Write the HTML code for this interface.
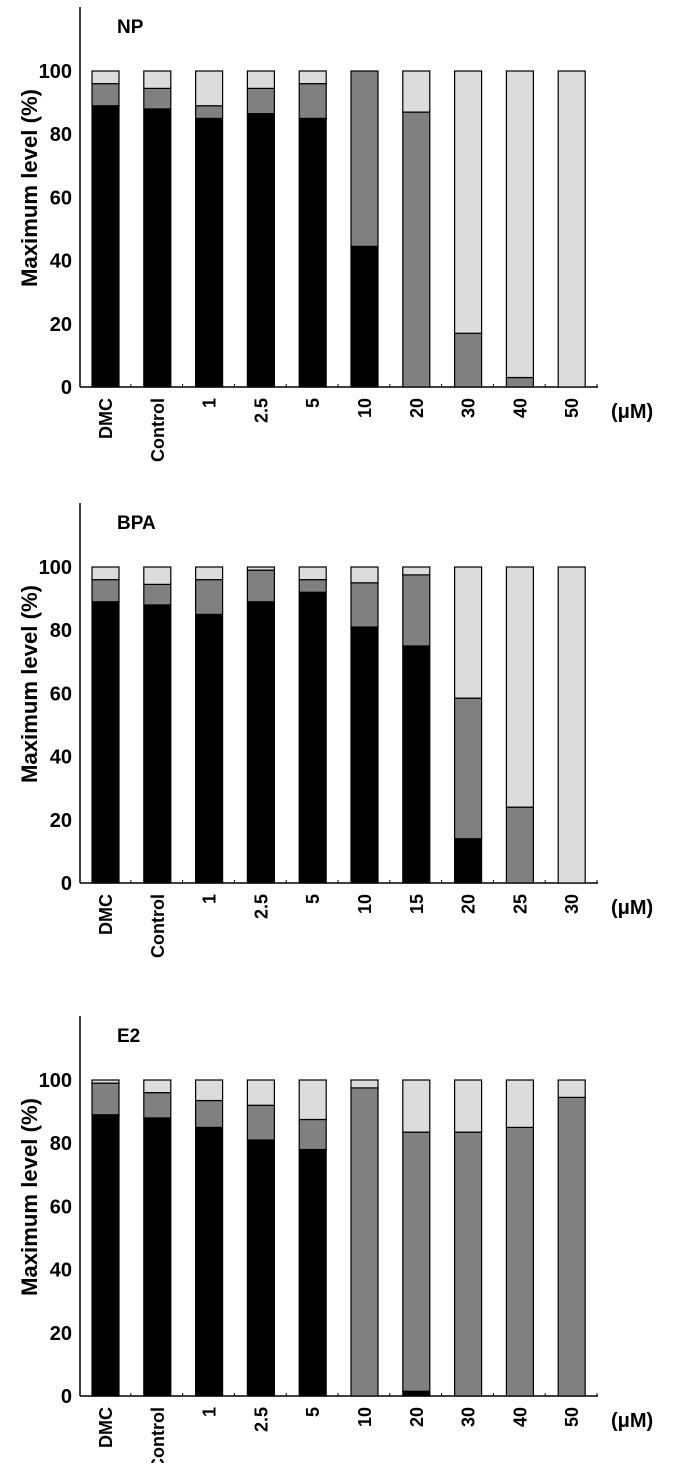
<!DOCTYPE html>
<html><head><meta charset="utf-8"><style>
html,body{margin:0;padding:0;background:#fff}
svg{display:block;font-family:"Liberation Sans",Arial,sans-serif;font-weight:bold}
</style></head><body>
<svg id="chart" width="681" height="1463" viewBox="0 0 681 1463"></svg>
<script>
const npCats=["DMC","Control","1","2.5","5","10","20","30","40","50"];
const npBlack=[89,88,85,86.5,85,44.5,0,0,0,0];
const npGray=[7,6.5,4,8,11,55.5,87,17,3,0];
const bpaCats=["DMC","Control","1","2.5","5","10","15","20","25","30"];
const bpaBlack=[89,88,85,89,92,81,75,14,0,0];
const bpaGray=[7,6.5,11,10,4,14,22.5,44.5,24,0];
const e2Cats=["DMC","Control","1","2.5","5","10","20","30","40","50"];
const e2Black=[89,88,85,81,78,0,1.5,0,0,0];
const e2Gray=[10,8,8.5,11,9.5,97.5,82,83.5,85,94.5];
const yTicks=[0,20,40,60,80,100];
const titles=["NP","BPA","E2"];

const NS="http://www.w3.org/2000/svg";
const svg=document.getElementById('chart');
function mk(tag,attrs,parent){const e=document.createElementNS(NS,tag);for(const k in attrs)e.setAttribute(k,attrs[k]);(parent||svg).appendChild(e);return e;}

function panel(idx,cats,black,gray,y0){
  const g=mk('g',{});
  
  
  const axX=80, top=y0-380, x0=80, step=51.8;
  const yS=v=>y0-v*3.16;
  const xS=i=>x0+12+i*step;
  const bw=27;
  const ya=mk('line',{x1:axX,y1:top,x2:axX,y2:y0,stroke:'#000','stroke-width':1.5},g);
  
  const xa=mk('line',{x1:axX,y1:y0,x2:598,y2:y0,stroke:'#000','stroke-width':1.5},g);
  
  for(let i=1;i<=cats.length;i++){
    const tx=x0+i*step-1;
    mk('line',{x1:tx,y1:y0,x2:tx,y2:y0-3,stroke:'#000','stroke-width':1},g);
  }
  yTicks.forEach(t=>{
    const tl=mk('text',{x:72,y:yS(t)+7,'text-anchor':'end','font-size':20},g);
    tl.textContent=t;
    
  });
  const yt=mk('text',{x:0,y:0,'text-anchor':'middle','font-size':22,textLength:198,lengthAdjust:'spacingAndGlyphs',transform:`translate(37,${y0-199}) rotate(-90)`},g);
  yt.textContent='Maximum level (%)';
  
  const tt=mk('text',{x:117,y:top+26,'font-size':19},g);
  tt.textContent=titles[idx];
  
  cats.forEach((c,i)=>{
    const x=xS(i);
    const b=black[i],gr=gray[i];
    const segs=[[0,b,'#000'],[b,b+gr,'#808080'],[b+gr,100,'#dcdcdc']];
    segs.forEach((s,k)=>{
      if(s[1]-s[0]<=0)return;
      const r=mk('rect',{x:x,y:yS(s[1]),width:bw,height:yS(s[0])-yS(s[1]),fill:s[2],stroke:'#000','stroke-width':1.2},g);
      
      
    });
    const lb=mk('text',{x:0,y:0,'text-anchor':'end','font-size':18,transform:`translate(${x+bw/2+6.5},${y0+11}) rotate(-90)`},g);
    lb.textContent=c;
    
  });
  const u=mk('text',{x:611,y:y0+31,'font-size':20},g);
  u.textContent='(μM)';
  
}
panel(0,npCats,npBlack,npGray,387);
panel(1,bpaCats,bpaBlack,bpaGray,883);
panel(2,e2Cats,e2Black,e2Gray,1396);
</script>
</body></html>
